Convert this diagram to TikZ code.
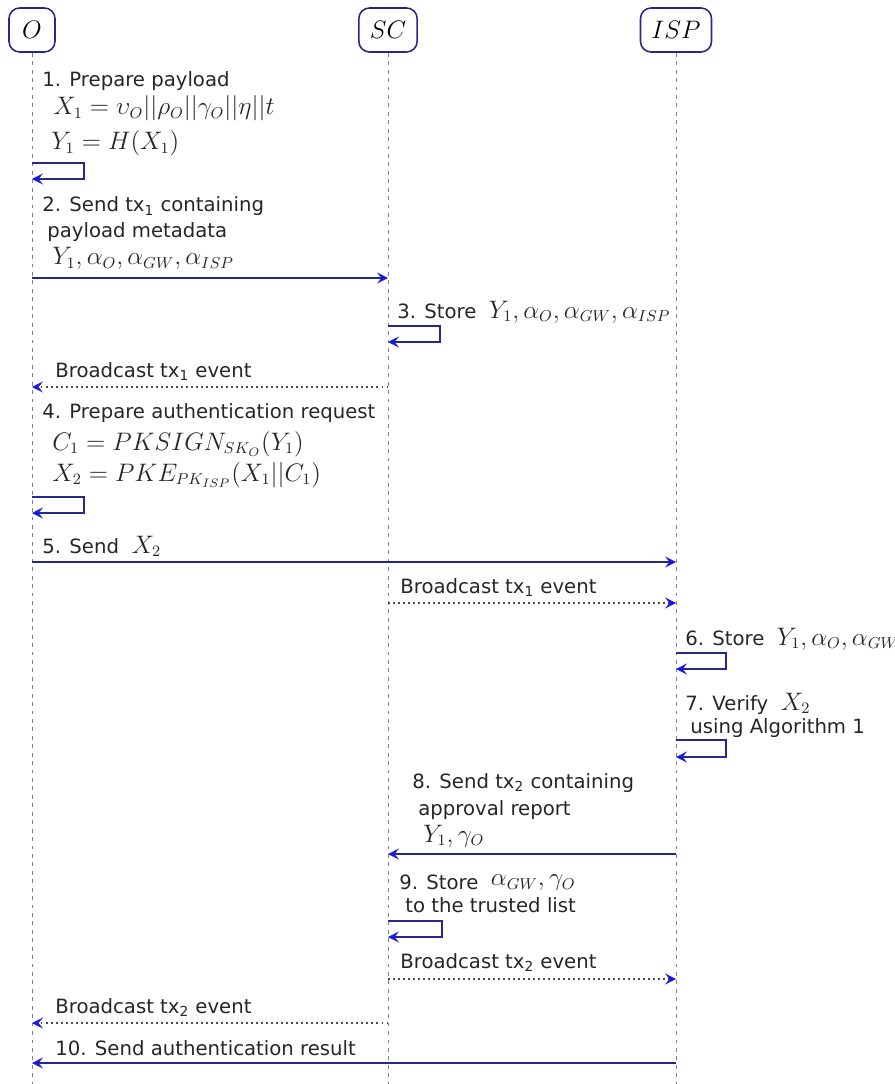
\documentclass[tikz,border=0pt]{standalone}
\usepackage{fontspec}
\setmainfont{DejaVu Sans}
\usetikzlibrary{arrows.meta,positioning}

\definecolor{msgblue}{RGB}{40,40,140}
\definecolor{tipblue}{RGB}{25,25,225}
\definecolor{lifegray}{RGB}{120,125,165}
\newcommand{\mth}[1]{{\fontsize{13.5}{16}\selectfont$#1$}}

\tikzset{
  actor/.style={draw=msgblue,line width=0.9pt,rounded corners=6pt,minimum width=0.92cm,
    minimum height=0.88cm,inner xsep=0.22cm,font=\fontsize{13.5}{16}\selectfont},
  life/.style={lifegray,dash pattern=on 2.2pt off 2.6pt,line width=0.5pt},
  msg/.style={msgblue,line width=0.85pt,-{Stealth[length=2.2mm,width=2.2mm,inset=0.9mm,color=tipblue]}},
  bcast/.style={msg,draw=black!70,dotted,line width=0.6pt},
  lbl/.style={anchor=base west,inner sep=0pt,text=black!85,font=\fontsize{11.2}{13}\selectfont},
}

\begin{document}
\begin{tikzpicture}[x=0.02cm,y=-0.02cm]
\useasboundingbox (0,0) rectangle (894,1084);

% Parties and lifelines
\node[actor] (o) at (32,30) {$O$};
\node[actor] (sc) at (388,30) {$SC$};
\node[actor] (isp) at (676,30) {$ISP$};
\coordinate (oend) at (32,1084);
\coordinate (scend) at (388,1084);
\coordinate (ispend) at (676,1084);
\draw[life] (o) -- (oend);
\draw[life] (sc) -- (scend);
\draw[life] (isp) -- (ispend);

% 1. payload
\node[lbl] (m1) at (42,87) {1. Prepare payload};
\node[lbl] (m1x) at (53,115) {\mth{X_1=\upsilon_O||\rho_O||\gamma_O||\eta||t}};
\node[lbl] (m1y) at (51,150) {\mth{Y_1=H(X_1)}};
\coordinate (o1a) at (32,163);
\coordinate (o1b) at (32,179);
\draw[msg] (o1a) -- ++(52,0) |- (o1b);

% 2. tx1 to SC
\node[lbl] (m2) at (42,212) {2. Send tx\textsubscript{1} containing};
\node[lbl] (m2b) at (47,238) {payload metadata};
\node[lbl] (m2c) at (52,265) {\mth{Y_1,\alpha_O,\alpha_{GW},\alpha_{ISP}}};
\coordinate (o2) at (32,278);
\coordinate (sc2) at (388,278);
\draw[msg] (o2) -- (sc2);

% 3. store on SC
\node[lbl] (m3) at (397,318) {3. Store\ \ \mth{Y_1,\alpha_O,\alpha_{GW},\alpha_{ISP}}};
\coordinate (sc3a) at (388,326);
\coordinate (sc3b) at (388,342);
\draw[msg] (sc3a) -- ++(52,0) |- (sc3b);

% broadcast tx1 to O
\node[lbl] (b1) at (55,377) {Broadcast tx\textsubscript{1} event};
\coordinate (sc4) at (388,387);
\coordinate (o4) at (32,387);
\draw[bcast] (sc4) -- (o4);

% 4. auth request
\node[lbl] (m4) at (42,418) {4. Prepare authentication request};
\node[lbl] (m4c) at (52,450) {\mth{C_1=PKSIGN_{SK_O}(Y_1)}};
\node[lbl] (m4x) at (52,481) {\mth{X_2=PKE_{PK_{ISP}}(X_1||C_1)}};
\coordinate (o5a) at (32,497);
\coordinate (o5b) at (32,513);
\draw[msg] (o5a) -- ++(52,0) |- (o5b);

% 5. send X2
\node[lbl] (m5) at (42,553) {5. Send\ \ \mth{X_2}};
\coordinate (o6) at (32,562);
\coordinate (isp6) at (676,562);
\draw[msg] (o6) -- (isp6);

% broadcast tx1 to ISP
\node[lbl] (b2) at (400,593) {Broadcast tx\textsubscript{1} event};
\coordinate (sc7) at (388,603);
\coordinate (isp7) at (676,603);
\draw[bcast] (sc7) -- (isp7);

% 6. store on ISP
\node[lbl] (m6) at (685,645) {6. Store\ \ \mth{Y_1,\alpha_O,\alpha_{GW}}};
\coordinate (isp8a) at (676,653);
\coordinate (isp8b) at (676,669);
\draw[msg] (isp8a) -- ++(50,0) |- (isp8b);

% 7. verify
\node[lbl] (m7) at (685,710) {7. Verify\ \ \mth{X_2}};
\node[lbl] (m7b) at (690,733) {using Algorithm 1};
\coordinate (isp9a) at (676,740);
\coordinate (isp9b) at (676,757);
\draw[msg] (isp9a) -- ++(50,0) |- (isp9b);

% 8. tx2 to SC
\node[lbl] (m8) at (412,788) {8. Send tx\textsubscript{2} containing};
\node[lbl] (m8b) at (418,815) {approval report};
\node[lbl] (m8c) at (423,842) {\mth{Y_1,\gamma_O}};
\coordinate (isp10) at (676,854);
\coordinate (sc10) at (388,854);
\draw[msg] (isp10) -- (sc10);

% 9. trusted list
\node[lbl] (m9) at (399,889) {9. Store\ \ \raisebox{2pt}{\mth{\alpha_{GW},\gamma_O}}};
\node[lbl] (m9b) at (405,912) {to the trusted list};
\coordinate (sc11a) at (388,921);
\coordinate (sc11b) at (388,937);
\draw[msg] (sc11a) -- ++(54,0) |- (sc11b);

% broadcast tx2
\node[lbl] (b3) at (400,968) {Broadcast tx\textsubscript{2} event};
\coordinate (sc12) at (388,979);
\coordinate (isp12) at (676,979);
\draw[bcast] (sc12) -- (isp12);

\node[lbl] (b4) at (55,1013) {Broadcast tx\textsubscript{2} event};
\coordinate (sc13) at (388,1023);
\coordinate (o13) at (32,1023);
\draw[bcast] (sc13) -- (o13);

% 10. result
\node[lbl] (m10) at (55,1055) {10. Send authentication result};
\coordinate (isp14) at (676,1063);
\coordinate (o14) at (32,1063);
\draw[msg] (isp14) -- (o14);
\end{tikzpicture}
\end{document}
